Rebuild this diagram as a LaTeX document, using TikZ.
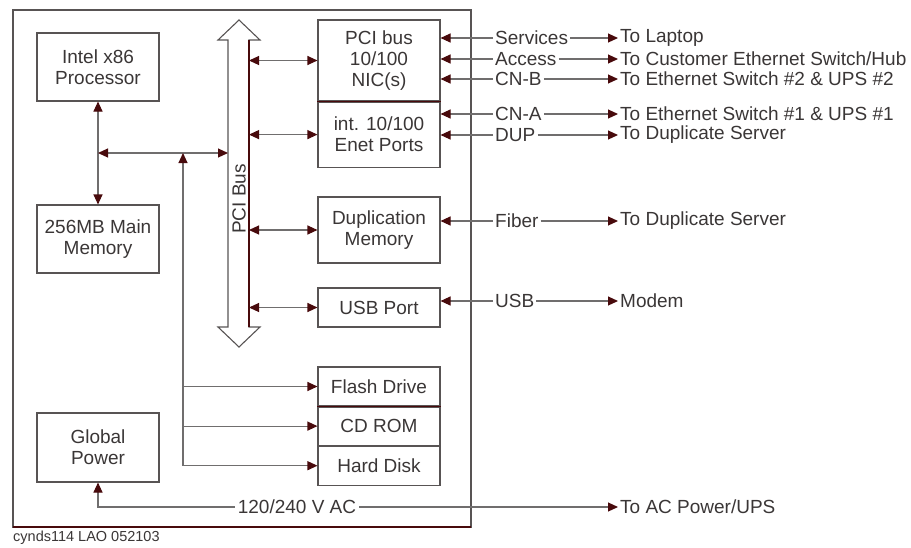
\documentclass[tikz,border=0pt]{standalone}
\usepackage{fontspec}
\setmainfont{Liberation Sans}
\usetikzlibrary{arrows.meta, positioning, calc}
\definecolor{wiregray}{RGB}{112,110,110}
\definecolor{boxgray}{RGB}{88,84,84}
\definecolor{tipred}{RGB}{72,10,12}
\definecolor{textgray}{RGB}{58,54,54}

\begin{document}
\begin{tikzpicture}[x=1pt, y=-1pt, >={Triangle[length=10pt, width=9pt, color=tipred]},
    font=\fontsize{19pt}{21pt}\selectfont, text=textgray,
    unit/.style={draw=boxgray, line width=1.1pt, minimum width=122pt, inner sep=0pt, align=center},
    wire/.style={draw=wiregray, line width=1.1pt},
    port/.style={anchor=west, inner sep=2pt},
    dest/.style={anchor=west, inner sep=2pt}]
  \useasboundingbox (0,0) rectangle (911,547);
  % chassis
  \draw[boxgray, line width=1.1pt] (13,10) rectangle (471,527);
  \draw[tipred, line width=1.1pt] (13,527) -- (471,527);
  % left column
  \node[unit, minimum height=68pt] (cpu) at (98,67) {Intel x86\\Processor};
  \node[unit, minimum height=68pt] (mem) at (98,239) {256MB Main\\Memory};
  \node[unit, minimum height=69pt] (pwr) at (98,447.5) {Global\\Power};
  % PCI bus
  \draw[boxgray, line width=1.1pt] (228,40) -- (218,40) -- (239,20) -- (260,40) -- (249,40)
    -- (249,327) -- (260,327) -- (239,347) -- (218,327) -- (228,327) -- cycle;
  \draw[tipred, line width=1.1pt] (249,40) -- (249,327);
  \node[rotate=90] (pcibus) at (239,199) {PCI Bus};
  \coordinate (busL) at (228,153);
  \coordinate (busR) at (249,0);
  \coordinate (jn) at (183,153);
  % right column
  \node[unit, minimum height=81pt] (nic) at (379,60.5) {PCI bus\\10/100\\NIC(s)};
  \node[unit, minimum height=65pt, below=0pt of nic] (enet) {int. 10/100\\Enet Ports};
  \node[unit, minimum height=66pt] (dup) at (379,230) {Duplication\\Memory};
  \node[unit, minimum height=39pt] (usb) at (379,307.5) {USB Port};
  \node[unit, minimum height=39pt] (flash) at (379,386.5) {Flash Drive};
  \node[unit, minimum height=38pt, below=0pt of flash] (cdrom) {CD ROM};
  \node[unit, minimum height=39pt, below=0pt of cdrom] (hdd) {Hard Disk};
  \draw[tipred, line width=1.1pt] (enet.north west) -- (enet.north east);
  \draw[tipred, line width=1.1pt] (cdrom.north west) -- (cdrom.north east);

  % processor side
  \draw[wire, <->] (cpu) -- (mem);
  \draw[wire, <->] (cpu.south |- busL) -- (busL);
  \draw[wire, ->] (jn |- hdd) -- (jn);
  \draw[wire, ->] (jn |- flash) -- (flash.west);
  \draw[wire, ->] (jn |- cdrom) -- (cdrom.west);
  \draw[wire, ->] (jn |- hdd) -- (hdd.west);

  % bus taps
  \draw[wire, <->] (busR |- nic) -- (nic.west);
  \draw[wire, <->] (busR |- enet) -- (enet.west);
  \draw[wire, <->] (busR |- dup) -- (dup.west);
  \draw[wire, <->] (busR |- usb) -- (usb.west);

  % external links
  \node[port] (svc) at (493,38) {Services};
  \node[port] (acc) at (493,59) {Access};
  \node[port] (cnb) at (493,79) {CN-B};
  \node[port] (cna) at (493,114) {CN-A};
  \node[port] (dupl) at (493,135) {DUP};
  \node[port] (fib) at (493,221) {Fiber};
  \node[port] (usbl) at (493,301) {USB};
  \node[dest] (laptop) at (618,38) {To Laptop};
  \node[dest] (custsw) at (618,59) {To Customer Ethernet Switch/Hub};
  \node[dest] (sw2) at (618,79) {To Ethernet Switch \#2 \& UPS \#2};
  \node[dest] (sw1) at (618,114) {To Ethernet Switch \#1 \& UPS \#1};
  \node[dest] (dupsrv) at (618,135) {To Duplicate Server};
  \node[dest] (fibsrv) at (618,221) {To Duplicate Server};
  \node[dest] (modem) at (618,301) {Modem};

  \draw[wire, ->] (svc.west) -- (svc -| nic.east);
  \draw[wire, ->] (acc.west) -- (acc -| nic.east);
  \draw[wire, ->] (cnb.west) -- (cnb -| nic.east);
  \draw[wire, ->] (cna.west) -- (cna -| enet.east);
  \draw[wire, ->] (dupl.west) -- (dupl -| enet.east);
  \draw[wire, ->] (fib.west) -- (fib -| dup.east);
  \draw[wire, ->] (usbl.west) -- (usbl -| usb.east);
  \draw[wire, ->] (svc.east) -- (laptop.west);
  \draw[wire, ->] (acc.east) -- (custsw.west);
  \draw[wire, ->] (cnb.east) -- (sw2.west);
  \draw[wire, ->] (cna.east) -- (sw1.west);
  \draw[wire, ->] (dupl.east) -- (dupsrv.west);
  \draw[wire, ->] (fib.east) -- (fibsrv.west);
  \draw[wire, ->] (usbl.east) -- (modem.west);

  % mains
  \node[inner sep=3pt] (ac) at (297,507) {120/240 V AC};
  \node[dest] (acups) at (618,507) {To AC Power/UPS};
  \draw[wire, ->] (ac.west) -| (pwr.south);
  \draw[wire, ->] (ac.east) -- (acups.west);

  \node[anchor=west, inner sep=0pt, font=\fontsize{14.5pt}{16pt}\selectfont] (tag) at (13,538) {cynds114 LAO 052103};
\end{tikzpicture}
\end{document}
